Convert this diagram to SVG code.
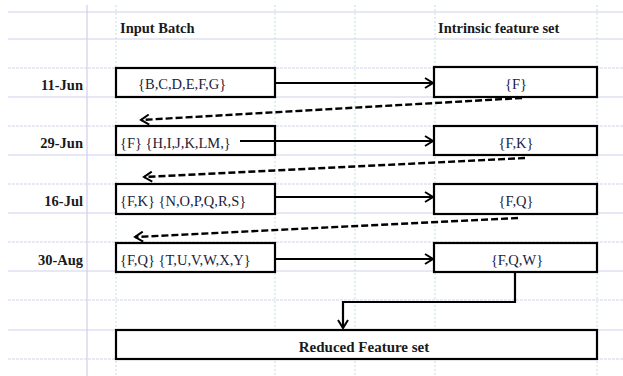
<svg xmlns="http://www.w3.org/2000/svg" width="623" height="376" viewBox="0 0 623 376">
<style>
.gs{stroke:#cfcfec;stroke-width:1.2;fill:none}
.gd{stroke:#d4d4ec;stroke-width:1;stroke-dasharray:3 1;fill:none}
.gv{stroke:#c6dede;stroke-width:1;stroke-dasharray:2 2;fill:none}
.box{fill:#fff;stroke:#000;stroke-width:2.2}
.hd{font-family:"Liberation Serif",serif;font-weight:bold;font-size:14.5px;fill:#1a1a1a}
.tx{font-family:"Liberation Serif",serif;font-size:14.5px;fill:#1c1c3a}
.sol{stroke:#000;stroke-width:2.2;fill:none}
.das{stroke:#000;stroke-width:2.4;fill:none;stroke-dasharray:7 3}
</style>
<defs>
<marker id="ah" markerWidth="12" markerHeight="12" refX="10" refY="6" orient="auto" markerUnits="userSpaceOnUse">
<path d="M2,1 L10,6 L2,11" fill="none" stroke="#000" stroke-width="2"/>
</marker>
</defs>
<rect width="623" height="376" fill="#fff"/>
<g id="grid">
<path class="gs" d="M8,12H623M8,39H623M8,97H623M8,155H623M8,213H623M8,271H623M8,330H623"/>
<path class="gd" d="M8,68H623M8,126H623M8,184H623M8,242H623M8,300H623M8,359H623"/>
<path class="gs" d="M87,5V376"/>
<path class="gv" d="M116,5V376M275,5V376M355,5V376M435,5V376M597,5V376"/>
</g>
<g id="headers">
<text class="hd" x="120" y="33">Input Batch</text>
<text class="hd" x="438" y="33">Intrinsic feature set</text>
<text class="hd" x="83" y="90" text-anchor="end">11-Jun</text>
<text class="hd" x="83" y="148" text-anchor="end">29-Jun</text>
<text class="hd" x="83" y="206" text-anchor="end">16-Jul</text>
<text class="hd" x="83" y="265" text-anchor="end">30-Aug</text>
</g>
<g id="in1"><rect class="box" x="116" y="68" width="159" height="29"/><text class="tx" x="138" y="89">{B,C,D,E,F,G}</text></g>
<g id="out1"><rect class="box" x="434" y="67" width="163" height="30"/><text class="tx" x="516" y="89" text-anchor="middle">{F}</text></g>
<g id="in2"><rect class="box" x="116" y="126" width="159" height="29"/><text class="tx" x="120" y="148">{F} {H,I,J,K,LM,}</text></g>
<g id="out2"><rect class="box" x="434" y="126" width="163" height="29"/><text class="tx" x="516" y="148" text-anchor="middle">{F,K}</text></g>
<g id="in3"><rect class="box" x="116" y="184" width="159" height="30"/><text class="tx" x="120" y="206">{F,K} {N,O,P,Q,R,S}</text></g>
<g id="out3"><rect class="box" x="434" y="184" width="163" height="30"/><text class="tx" x="516" y="206" text-anchor="middle">{F,Q}</text></g>
<g id="in4"><rect class="box" x="116" y="243" width="159" height="29"/><text class="tx" x="120" y="265">{F,Q} {T,U,V,W,X,Y}</text></g>
<g id="out4"><rect class="box" x="434" y="243" width="163" height="29"/><text class="tx" x="517" y="265" text-anchor="middle">{F,Q,W}</text></g>
<g id="reduced"><rect class="box" x="116" y="330" width="481" height="29"/><text class="hd" x="364" y="352" text-anchor="middle" style="font-size:15px">Reduced Feature set</text></g>
<g id="connectors">
<path class="sol" d="M276,83H433" marker-end="url(#ah)"/>
<path class="sol" d="M240,141H433" marker-end="url(#ah)"/>
<path class="sol" d="M276,197H433" marker-end="url(#ah)"/>
<path class="sol" d="M276,259H433" marker-end="url(#ah)"/>
<path class="das" d="M522,98L141,120" marker-end="url(#ah)"/>
<path class="das" d="M525,158L144,177" marker-end="url(#ah)"/>
<path class="das" d="M518,218L135,237" marker-end="url(#ah)"/>
<path class="sol" d="M515,273V302H343V328" marker-end="url(#ah)"/>
</g>
</svg>
